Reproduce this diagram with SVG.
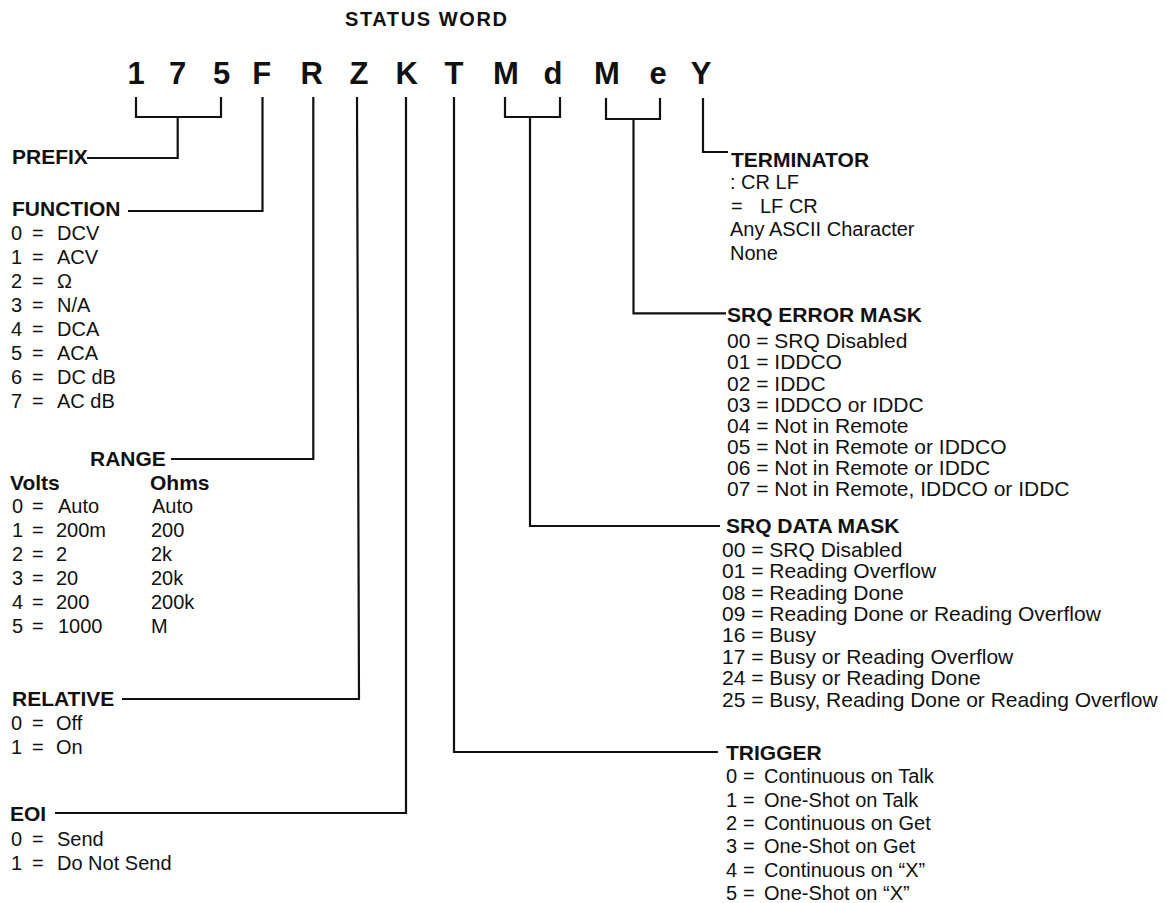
<svg xmlns="http://www.w3.org/2000/svg" width="1172" height="903" viewBox="0 0 1172 903">
<style>
text{font-family:"Liberation Sans",Arial,Helvetica,sans-serif;fill:#111}
.ttl{font-weight:bold;font-size:20px}
.big{font-weight:bold;font-size:31px;text-anchor:middle}
.lbl{font-weight:bold;font-size:21px}
.itm{font-size:20px}
.sq{font-size:21px}
.con{fill:none;stroke:#111;stroke-width:2.2;stroke-linejoin:miter}
</style>
<rect width="1172" height="903" fill="#fff"/>
<g id="title"><text class="ttl" x="345" y="26" textLength="162" lengthAdjust="spacing">STATUS WORD</text></g>
<g id="status-word">
<text class="big" x="136" y="84">1</text>
<text class="big" x="177.5" y="84">7</text>
<text class="big" x="221.7" y="84">5</text>
<text class="big" x="261.7" y="84">F</text>
<text class="big" x="311.7" y="84">R</text>
<text class="big" x="359" y="84">Z</text>
<text class="big" x="406.7" y="84">K</text>
<text class="big" x="454" y="84">T</text>
<text class="big" x="506" y="84">M</text>
<text class="big" x="553" y="84">d</text>
<text class="big" x="607" y="84">M</text>
<text class="big" x="658" y="84">e</text>
<text class="big" x="701" y="84">Y</text>
</g>
<g id="connectors" class="con">
<path d="M136,97V117H221V97M177.7,117V158H87"/>
<path d="M262.5,97V211H128"/>
<path d="M313.3,97V459H171"/>
<path d="M357,97L359,699H122"/>
<path d="M406,97V813H55"/>
<path d="M454,97V752H718"/>
<path d="M505,97V117H560V97M530,117V526H720"/>
<path d="M606,98V119H660V98M633.5,119V313.3H726"/>
<path d="M703,98V152H728"/>
</g>
<g id="prefix"><text class="lbl" x="12" y="164">PREFIX</text></g>
<g id="function">
<text class="lbl" x="12" y="216">FUNCTION</text>
<text class="itm" y="240"><tspan x="11">0</tspan><tspan x="32">=</tspan><tspan x="57">DCV</tspan></text>
<text class="itm" y="264"><tspan x="11">1</tspan><tspan x="32">=</tspan><tspan x="57">ACV</tspan></text>
<text class="itm" y="288"><tspan x="11">2</tspan><tspan x="32">=</tspan><tspan x="57">Ω</tspan></text>
<text class="itm" y="312"><tspan x="11">3</tspan><tspan x="32">=</tspan><tspan x="57">N/A</tspan></text>
<text class="itm" y="336"><tspan x="11">4</tspan><tspan x="32">=</tspan><tspan x="57">DCA</tspan></text>
<text class="itm" y="360"><tspan x="11">5</tspan><tspan x="32">=</tspan><tspan x="57">ACA</tspan></text>
<text class="itm" y="384"><tspan x="11">6</tspan><tspan x="32">=</tspan><tspan x="57">DC dB</tspan></text>
<text class="itm" y="408"><tspan x="11">7</tspan><tspan x="32">=</tspan><tspan x="57">AC dB</tspan></text>
</g>
<g id="range">
<text class="lbl" x="90" y="466">RANGE</text>
<text class="lbl" x="10" y="490">Volts</text>
<text class="lbl" x="150" y="490">Ohms</text>
<text class="itm" y="513"><tspan x="12">0</tspan><tspan x="32">=</tspan><tspan x="58">Auto</tspan><tspan x="152">Auto</tspan></text>
<text class="itm" y="537"><tspan x="12">1</tspan><tspan x="32">=</tspan><tspan x="56">200m</tspan><tspan x="151">200</tspan></text>
<text class="itm" y="561"><tspan x="12">2</tspan><tspan x="32">=</tspan><tspan x="56">2</tspan><tspan x="151">2k</tspan></text>
<text class="itm" y="585"><tspan x="12">3</tspan><tspan x="32">=</tspan><tspan x="56">20</tspan><tspan x="151">20k</tspan></text>
<text class="itm" y="609"><tspan x="12">4</tspan><tspan x="32">=</tspan><tspan x="56">200</tspan><tspan x="151">200k</tspan></text>
<text class="itm" y="633"><tspan x="12">5</tspan><tspan x="32">=</tspan><tspan x="58">1000</tspan><tspan x="151">M</tspan></text>
</g>
<g id="relative">
<text class="lbl" x="12" y="706">RELATIVE</text>
<text class="itm" y="730"><tspan x="11">0</tspan><tspan x="32">=</tspan><tspan x="56">Off</tspan></text>
<text class="itm" y="754"><tspan x="11">1</tspan><tspan x="32">=</tspan><tspan x="56">On</tspan></text>
</g>
<g id="eoi">
<text class="lbl" x="10" y="821">EOI</text>
<text class="itm" y="846"><tspan x="11">0</tspan><tspan x="32">=</tspan><tspan x="57">Send</tspan></text>
<text class="itm" y="870"><tspan x="11">1</tspan><tspan x="32">=</tspan><tspan x="57">Do Not Send</tspan></text>
</g>
<g id="terminator">
<text class="lbl" x="731" y="167">TERMINATOR</text>
<text class="itm" x="730" y="189">: CR LF</text>
<text class="itm" y="212.5"><tspan x="731">=</tspan><tspan x="760">LF CR</tspan></text>
<text class="itm" x="730" y="236">Any ASCII Character</text>
<text class="itm" x="730" y="259.5">None</text>
</g>
<g id="srq-error-mask">
<text class="lbl" x="727" y="321.7">SRQ ERROR MASK</text>
<text class="sq" x="727" y="348.3">00 = SRQ Disabled</text>
<text class="sq" x="727" y="369.4">01 = IDDCO</text>
<text class="sq" x="727" y="390.5">02 = IDDC</text>
<text class="sq" x="727" y="411.6">03 = IDDCO or IDDC</text>
<text class="sq" x="727" y="432.7">04 = Not in Remote</text>
<text class="sq" x="727" y="453.8">05 = Not in Remote or IDDCO</text>
<text class="sq" x="727" y="474.9">06 = Not in Remote or IDDC</text>
<text class="sq" x="727" y="496">07 = Not in Remote, IDDCO or IDDC</text>
</g>
<g id="srq-data-mask">
<text class="lbl" x="726" y="533">SRQ DATA MASK</text>
<text class="sq" x="722" y="556.7">00 = SRQ Disabled</text>
<text class="sq" x="722" y="578.1">01 = Reading Overflow</text>
<text class="sq" x="722" y="599.5">08 = Reading Done</text>
<text class="sq" x="722" y="620.9">09 = Reading Done or Reading Overflow</text>
<text class="sq" x="722" y="642.3">16 = Busy</text>
<text class="sq" x="722" y="663.7">17 = Busy or Reading Overflow</text>
<text class="sq" x="722" y="685.1">24 = Busy or Reading Done</text>
<text class="sq" x="722" y="706.5">25 = Busy, Reading Done or Reading Overflow</text>
</g>
<g id="trigger">
<text class="lbl" x="726" y="760">TRIGGER</text>
<text class="itm" y="783.3"><tspan x="726">0</tspan><tspan x="743">=</tspan><tspan x="764">Continuous on Talk</tspan></text>
<text class="itm" y="806.7"><tspan x="726">1</tspan><tspan x="743">=</tspan><tspan x="764">One-Shot on Talk</tspan></text>
<text class="itm" y="830"><tspan x="726">2</tspan><tspan x="743">=</tspan><tspan x="764">Continuous on Get</tspan></text>
<text class="itm" y="853.3"><tspan x="726">3</tspan><tspan x="743">=</tspan><tspan x="764">One-Shot on Get</tspan></text>
<text class="itm" y="876.6"><tspan x="726">4</tspan><tspan x="743">=</tspan><tspan x="764">Continuous on “X”</tspan></text>
<text class="itm" y="899.5"><tspan x="726">5</tspan><tspan x="743">=</tspan><tspan x="764">One-Shot on “X”</tspan></text>
</g>
</svg>
